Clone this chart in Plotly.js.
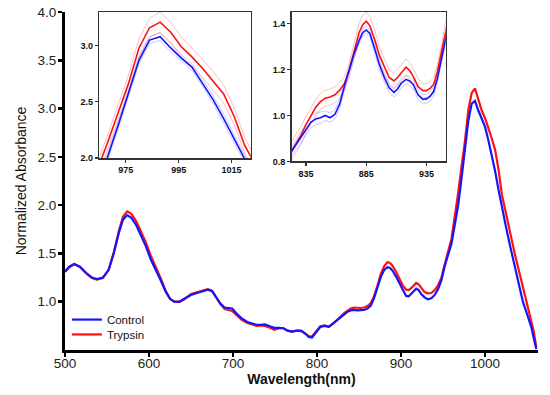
<!DOCTYPE html>
<html>
<head>
<meta charset="utf-8">
<script src="https://cdn.plot.ly/plotly-3.0.1.min.js"></script>
<style>html,body{margin:0;padding:0;background:#fff;}#chart{width:550px;height:395px;}</style>
</head>
<body>
<div id="chart"></div>
<script>
// Main spectrum (nm, normalized absorbance)
const wl = [500,505,511,518,525,532,538,545,552,558,564,569,574,579,585,590,596,602,606,610,614,620,625,630,636,642,650,657,664,670,675,680,685,690,695,699,705,710,717,723,728,733,738,744,749,755,760,765,770,776,781,786,790,794,799,804,809,814,820,824,828,832,836,840,844,848,852,856,860,864,868,872,876,880,884,887,890,894,898,902,906,909,912,915,918,921,924,928,932,936,940,944,948,952,956,960,964,968,972,976,980,984,988,992,996,1000,1004,1008,1012,1016,1020,1025,1030,1035,1040,1045,1050,1055,1058,1061];
const control = [1.31,1.36,1.39,1.36,1.30,1.25,1.235,1.25,1.33,1.50,1.71,1.85,1.897,1.87,1.79,1.70,1.58,1.44,1.37,1.30,1.22,1.10,1.03,1.00,1.00,1.03,1.07,1.09,1.11,1.125,1.11,1.04,0.98,0.94,0.935,0.93,0.87,0.83,0.79,0.775,0.76,0.76,0.765,0.745,0.73,0.73,0.725,0.70,0.69,0.70,0.70,0.67,0.635,0.63,0.68,0.74,0.75,0.74,0.78,0.81,0.845,0.87,0.895,0.91,0.915,0.91,0.91,0.915,0.93,0.96,1.04,1.15,1.26,1.33,1.357,1.35,1.32,1.26,1.19,1.12,1.06,1.055,1.08,1.11,1.135,1.12,1.08,1.045,1.025,1.035,1.07,1.13,1.22,1.37,1.48,1.60,1.80,2.00,2.28,2.57,2.87,3.05,3.08,2.98,2.89,2.81,2.67,2.52,2.35,2.16,1.97,1.77,1.57,1.38,1.19,1.00,0.87,0.74,0.62,0.51];
const trypsin = [1.31,1.36,1.39,1.36,1.295,1.245,1.228,1.245,1.33,1.51,1.73,1.88,1.935,1.91,1.83,1.74,1.62,1.48,1.39,1.32,1.24,1.11,1.03,1.00,0.995,1.025,1.08,1.10,1.12,1.13,1.115,1.045,0.975,0.925,0.915,0.905,0.855,0.815,0.78,0.765,0.75,0.755,0.75,0.73,0.71,0.725,0.725,0.70,0.69,0.70,0.695,0.67,0.645,0.64,0.69,0.745,0.755,0.74,0.78,0.815,0.85,0.88,0.905,0.93,0.94,0.935,0.935,0.94,0.955,0.985,1.06,1.17,1.29,1.37,1.41,1.40,1.37,1.31,1.24,1.17,1.125,1.12,1.14,1.17,1.195,1.18,1.14,1.10,1.087,1.09,1.12,1.17,1.25,1.40,1.52,1.65,1.88,2.13,2.40,2.66,2.98,3.16,3.21,3.10,2.98,2.90,2.80,2.69,2.57,2.37,2.11,1.90,1.70,1.51,1.33,1.15,0.97,0.80,0.69,0.53];

// Inset A: main peak, mean and SD
const peakWl = [960,964,968,972,976,980,984,988,992,996,1000,1004,1008,1012,1016,1020,1024,1028];
const peakControl = [1.60,1.80,2.00,2.28,2.57,2.87,3.05,3.08,2.98,2.89,2.81,2.67,2.52,2.35,2.16,1.97,1.81,1.65];
const peakTrypsin = [1.65,1.88,2.13,2.40,2.66,2.98,3.16,3.21,3.12,2.99,2.90,2.80,2.69,2.57,2.37,2.11,1.94,1.78];
const peakControlSd = [0.025,0.025,0.03,0.03,0.03,0.03,0.03,0.035,0.035,0.03,0.03,0.03,0.035,0.04,0.04,0.035,0.03,0.03];
const peakTrypsinSd = [0.06,0.06,0.065,0.07,0.075,0.08,0.085,0.09,0.09,0.085,0.08,0.08,0.08,0.08,0.075,0.07,0.065,0.06];

// Inset B: 820-955 nm region, mean and SD
const zoomWl = [820,823,827,831,835,839,843,847,851,855,859,863,867,871,875,879,882,885,888,892,896,900,904,908,911,914,918,921,924,928,932,935,938,941,944,947,951,954];
const zoomControl = [0.82,0.843,0.875,0.905,0.94,0.97,0.985,0.99,1.0,0.99,1.005,1.05,1.13,1.20,1.27,1.325,1.36,1.372,1.357,1.29,1.22,1.165,1.12,1.10,1.115,1.14,1.157,1.15,1.135,1.09,1.07,1.072,1.083,1.105,1.16,1.235,1.335,1.44];
const zoomTrypsin = [0.82,0.845,0.88,0.915,0.96,1.0,1.035,1.06,1.075,1.08,1.09,1.11,1.14,1.20,1.285,1.36,1.395,1.41,1.39,1.33,1.26,1.21,1.165,1.15,1.165,1.185,1.21,1.195,1.17,1.125,1.108,1.108,1.118,1.136,1.19,1.265,1.364,1.46];
const zoomControlSd = [0.02,0.02,0.02,0.025,0.025,0.025,0.025,0.025,0.02,0.02,0.02,0.02,0.015,0.015,0.015,0.015,0.015,0.015,0.015,0.02,0.02,0.02,0.02,0.02,0.02,0.02,0.02,0.02,0.02,0.02,0.02,0.02,0.02,0.02,0.02,0.02,0.02,0.02];
const zoomTrypsinSd = [0.04,0.04,0.04,0.04,0.035,0.035,0.035,0.035,0.035,0.035,0.035,0.035,0.03,0.03,0.035,0.04,0.04,0.04,0.04,0.04,0.035,0.035,0.035,0.035,0.035,0.035,0.035,0.035,0.035,0.035,0.03,0.03,0.03,0.03,0.03,0.03,0.03,0.03];

// Tick labels
const xTicks = [500,600,700,800,900,1000];
const yTicks = [1.0,1.5,2.0,2.5,3.0,3.5,4.0];
const yTickText = ['1.0','1.5','2.0','2.5','3.0','3.5','4.0'];
const peakXTicks = [975,995,1015];
const peakYTicks = [2.0,2.5,3.0];
const peakYText = ['2.0','2.5','3.0'];
const zoomXTicks = [835,885,935];
const zoomYTicks = [0.8,1.0,1.2,1.4];
const zoomYText = ['0.8','1.0','1.2','1.4'];

const BLUE = '#1414ff', RED = '#ff1010';
const FAINT_BLUE = 'rgba(60,60,255,0.28)', FAINT_RED = 'rgba(255,40,40,0.3)';
const FONT = '"Liberation Sans", Arial, sans-serif';

const plus = (m, s) => m.map((v, i) => v + s[i]);
const minus = (m, s) => m.map((v, i) => v - s[i]);

function insetTraces(x, c, t, cs, ts, xa, ya) {
  const f = (y, color) => ({x, y, xaxis: xa, yaxis: ya, mode: 'lines', line: {color, width: 1}, showlegend: false, hoverinfo: 'skip'});
  return [
    f(plus(t, ts), FAINT_RED), f(minus(t, ts), FAINT_RED),
    f(plus(c, cs), FAINT_BLUE), f(minus(c, cs), FAINT_BLUE),
    {x, y: t, xaxis: xa, yaxis: ya, mode: 'lines', line: {color: RED, width: 1.6}, showlegend: false},
    {x, y: c, xaxis: xa, yaxis: ya, mode: 'lines', line: {color: BLUE, width: 1.6}, showlegend: false}
  ];
}

const data = [
  {x: wl, y: trypsin, name: 'Trypsin', mode: 'lines', line: {color: RED, width: 2.2}, legend: 'legend2'},
  {x: wl, y: control, name: 'Control', mode: 'lines', line: {color: BLUE, width: 2.2}, legend: 'legend'},
  ...insetTraces(peakWl, peakControl, peakTrypsin, peakControlSd, peakTrypsinSd, 'x2', 'y2'),
  ...insetTraces(zoomWl, zoomControl, zoomTrypsin, zoomControlSd, zoomTrypsinSd, 'x3', 'y3')
];

const mainAxis = {
  showline: true, linecolor: '#000', linewidth: 3, ticks: 'outside', ticklen: 4, tickwidth: 2.5,
  tickcolor: '#000', showgrid: false, zeroline: false, tickfont: {family: FONT, size: 13.5, color: '#222'}
};
const insetAxis = {
  showline: true, mirror: true, linecolor: '#333', linewidth: 1.5, ticks: 'outside', ticklen: 3,
  tickwidth: 1.2, tickcolor: '#333', showgrid: false, zeroline: false,
  tickfont: {family: FONT, size: 9, color: '#111', weight: 'bold'}
};

const layout = {
  width: 550, height: 395,
  margin: {l: 65, r: 12, t: 12, b: 45},
  paper_bgcolor: '#fff', plot_bgcolor: '#fff',
  font: {family: FONT, color: '#111'},
  xaxis: Object.assign({}, mainAxis, {range: [500, 1063], tickvals: xTicks, ticklabelstandoff: -5,
    title: {text: '<b>Wavelength(nm)</b>', font: {family: FONT, size: 14, color: '#111'}, standoff: 4}}),
  yaxis: Object.assign({}, mainAxis, {range: [0.5, 4.0], tickvals: yTicks, ticktext: yTickText, ticklabelstandoff: -1,
    title: {text: 'Normalized Absorbance', font: {family: FONT, size: 14, color: '#111'}, standoff: 8}}),
  xaxis2: Object.assign({}, insetAxis, {domain: [0.0725, 0.393], anchor: 'y2', range: [965, 1022.3], tickvals: peakXTicks}),
  yaxis2: Object.assign({}, insetAxis, {domain: [0.568, 1.0], anchor: 'x2', range: [2.0, 3.3], tickvals: peakYTicks, ticktext: peakYText}),
  xaxis3: Object.assign({}, insetAxis, {domain: [0.479, 0.805], anchor: 'y3', range: [823, 951], tickvals: zoomXTicks}),
  yaxis3: Object.assign({}, insetAxis, {domain: [0.558, 1.0], anchor: 'x3', range: [0.8, 1.45], tickvals: zoomYTicks, ticktext: zoomYText}),
  legend: {x: 0.004, y: 0.09, xanchor: 'left', yanchor: 'middle', bgcolor: 'rgba(0,0,0,0)', font: {family: FONT, size: 11.5, color: '#111'}},
  legend2: {x: 0.004, y: 0.046, xanchor: 'left', yanchor: 'middle', bgcolor: 'rgba(0,0,0,0)', font: {family: FONT, size: 11.5, color: '#111'}},
  showlegend: true
};

Plotly.newPlot('chart', data, layout, {displayModeBar: false, staticPlot: true});
</script>
</body>
</html>
